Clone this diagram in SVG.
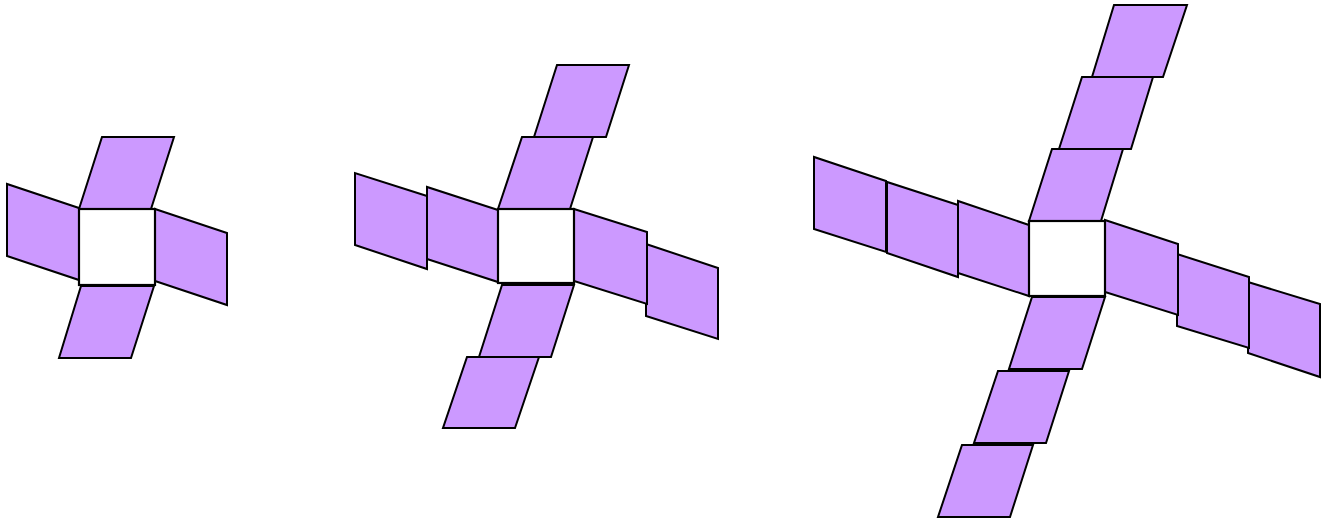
<svg xmlns="http://www.w3.org/2000/svg" width="1325" height="522" viewBox="0 0 1325 522">
<style>
.p{fill:#cc99ff;stroke:#000;stroke-width:2;stroke-linejoin:miter}
.s{fill:#fff;stroke:#000;stroke-width:2.2}
</style>
<rect width="1325" height="522" fill="#fff"/>
<g id="fig1">
<polygon class="p" points="79,209 102,137 174,137 151,209"/>
<polygon class="p" points="79,208 7,184 7,256 79,280"/>
<polygon class="p" points="155,209 227,233 227,305 155,281"/>
<polygon class="p" points="81,286 154,286 131,358 59,358"/>
<rect class="s" x="79" y="209" width="76" height="76"/>
</g>
<g id="fig2">
<polygon class="p" points="534,137 557,65 629,65 606,137"/>
<polygon class="p" points="498,209 522,137 593,137 570,209"/>
<polygon class="p" points="427,196 355,173 355,245 427,269"/>
<polygon class="p" points="498,210 427,187 427,259 498,282"/>
<polygon class="p" points="646,244 718,268 718,339 646,316"/>
<polygon class="p" points="574,209 647,232 647,304 574,281"/>
<polygon class="p" points="467,357 539,357 515,428 443,428"/>
<polygon class="p" points="502,285 574,285 551,357 479,357"/>
<rect class="s" x="498" y="209" width="76" height="74"/>
</g>
<g id="fig3">
<polygon class="p" points="1092,77 1114,5 1187,5 1163,77"/>
<polygon class="p" points="1059,149 1082,77 1153,77 1131,149"/>
<polygon class="p" points="1029,221 1052,149 1123,149 1101,221"/>
<polygon class="p" points="886,181 814,157 814,229 886,252"/>
<polygon class="p" points="958,205 887,182 887,253 958,277"/>
<polygon class="p" points="1029,225 958,201 958,273 1029,296"/>
<polygon class="p" points="1248,282 1320,304 1320,377 1248,353"/>
<polygon class="p" points="1177,254 1249,277 1249,348 1177,326"/>
<polygon class="p" points="1105,220 1178,244 1178,315 1105,292"/>
<polygon class="p" points="962,445 1033,445 1010,517 938,517"/>
<polygon class="p" points="998,371 1069,371 1046,443 974,443"/>
<polygon class="p" points="1032,297 1105,297 1082,369 1009,369"/>
<rect class="s" x="1029" y="221" width="76" height="75"/>
</g>
</svg>
